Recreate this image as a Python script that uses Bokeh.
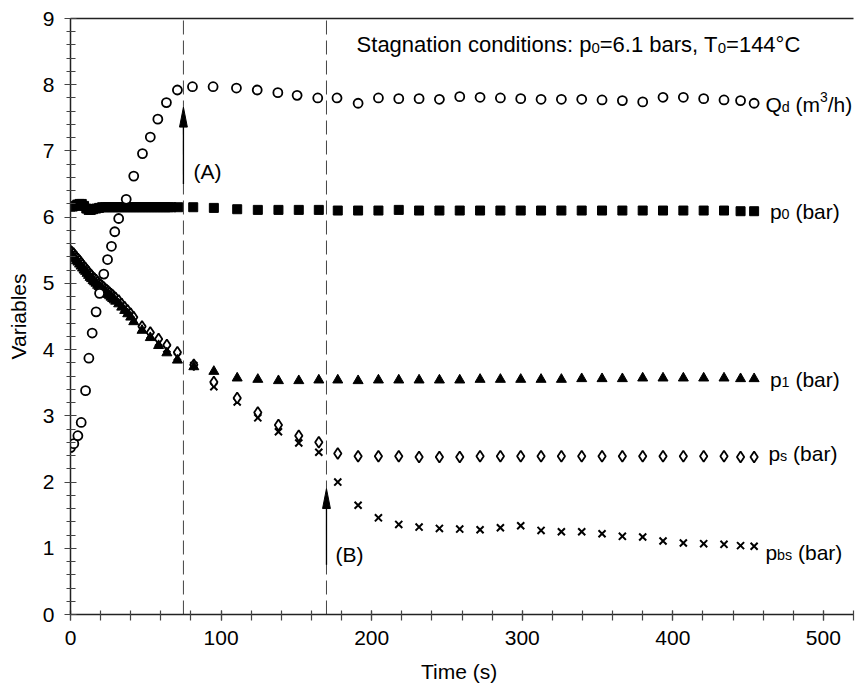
from bokeh.plotting import figure
from bokeh.models import LinearAxis, FixedTicker, Label
from bokeh.embed import file_html
from bokeh.resources import INLINE

# ---------------- data ----------------
qd_t = [0.0, 2.2, 4.9, 7.1, 10.0, 12.2, 14.4, 17.0, 19.3, 22.1, 24.6, 27.2, 29.4, 32.0, 37.0,
        42.0, 47.8, 53.0, 58.0, 63.7, 71.0, 81.0, 94.7, 110.2, 124.0, 137.7, 150.5, 164.2,
        177.0, 191.0, 204.5, 218.0, 231.5, 245.0, 258.5, 272.0, 285.5, 299.0, 312.5, 326.0,
        339.5, 353.0, 366.5, 380.0, 393.5, 407.0, 420.5, 434.0, 445.0, 454.0]
qd_v = [2.52, 2.58, 2.70, 2.90, 3.38, 3.87, 4.25, 4.57, 4.85, 5.14, 5.36, 5.56, 5.78, 5.98, 6.27,
        6.62, 6.96, 7.21, 7.48, 7.73, 7.92, 7.97, 7.97, 7.95, 7.92, 7.88, 7.84, 7.80,
        7.80, 7.72, 7.80, 7.79, 7.79, 7.78, 7.82, 7.81, 7.80, 7.79, 7.78, 7.78,
        7.78, 7.77, 7.76, 7.74, 7.81, 7.81, 7.79, 7.77, 7.76, 7.72]

p0_t = [0, 1.5, 3, 4.5, 6, 7.5, 9, 10.5, 12, 13.5, 15, 17, 19, 21, 23, 25, 27, 29, 31, 33, 35,
        37, 39, 41, 43, 45, 47, 49, 51, 53, 55, 57, 59, 61, 63, 65, 67, 71.5, 81.5, 95.2,
        110.7, 124.4, 138.1, 151.6, 164.9, 177.5, 191.0, 204.5, 218.0, 231.5, 245.0, 258.5,
        272.0, 285.5, 299.0, 312.5, 326.0, 339.5, 353.0, 366.5, 380.0, 393.5, 407.0, 420.5,
        434.0, 445.0, 454.0]
p0_v = [6.16, 6.16, 6.17, 6.19, 6.20, 6.20, 6.17, 6.13, 6.11, 6.11, 6.12, 6.13, 6.14, 6.15,
        6.15, 6.15, 6.15, 6.15, 6.15, 6.15, 6.15, 6.15, 6.15, 6.15, 6.15, 6.15, 6.15, 6.15,
        6.15, 6.15, 6.15, 6.15, 6.15, 6.15, 6.15, 6.15, 6.15, 6.15, 6.15, 6.14,
        6.12, 6.11, 6.11, 6.11, 6.11, 6.10, 6.10, 6.10, 6.11, 6.10, 6.10, 6.10,
        6.10, 6.10, 6.10, 6.10, 6.10, 6.10, 6.10, 6.10, 6.10, 6.10, 6.10, 6.10,
        6.10, 6.09, 6.09]

# common sampling times of p1, ps and pbs
pt = [0, 1, 2, 3, 4, 5, 6, 7, 8, 9, 10, 11, 12, 13, 14, 15, 16, 17, 18, 19, 20, 21, 22, 23,
      24, 25, 26, 27, 28, 29, 30, 32, 34, 36, 38, 40, 42, 47.5, 53, 58.5, 64, 71,
      81.9, 95.2, 110.7, 124.4, 138.1, 151.6, 164.9, 177.5, 191.0, 204.5, 218.0, 231.5,
      245.0, 258.5, 272.0, 285.5, 299.0, 312.5, 326.0, 339.5, 353.0, 366.5, 380.0, 393.5,
      407.0, 420.5, 434.0, 445.0, 454.0]
p1_v = [5.44, 5.42, 5.40, 5.37, 5.34, 5.32, 5.29, 5.26, 5.23, 5.20, 5.18, 5.15, 5.12, 5.09,
        5.07, 5.04, 5.02, 5.00, 4.97, 4.95, 4.93, 4.91, 4.89, 4.87, 4.85, 4.83, 4.81, 4.79,
        4.77, 4.75, 4.73, 4.69, 4.64, 4.59, 4.54, 4.49, 4.42, 4.29, 4.18, 4.06, 3.95, 3.84,
        3.74, 3.67, 3.57, 3.55, 3.53, 3.53, 3.54, 3.54, 3.53, 3.54, 3.54, 3.54,
        3.54, 3.54, 3.55, 3.55, 3.55, 3.55, 3.55, 3.56, 3.56, 3.56, 3.57, 3.57,
        3.57, 3.57, 3.57, 3.56, 3.56]
ps_v = [5.49, 5.47, 5.45, 5.42, 5.39, 5.37, 5.34, 5.31, 5.28, 5.25, 5.23, 5.20, 5.17, 5.14,
        5.12, 5.09, 5.07, 5.05, 5.02, 5.00, 4.98, 4.96, 4.94, 4.92, 4.90, 4.88, 4.86, 4.84,
        4.82, 4.80, 4.78, 4.74, 4.69, 4.64, 4.59, 4.54, 4.49, 4.35, 4.26, 4.16, 4.07, 3.96,
        3.77, 3.51, 3.27, 3.05, 2.86, 2.70, 2.60, 2.43, 2.39, 2.39, 2.39, 2.38,
        2.38, 2.38, 2.39, 2.39, 2.39, 2.39, 2.39, 2.39, 2.39, 2.39, 2.39, 2.39,
        2.39, 2.39, 2.39, 2.38, 2.38]
pbs_v = [5.47, 5.45, 5.43, 5.40, 5.37, 5.35, 5.32, 5.29, 5.26, 5.23, 5.21, 5.18, 5.15, 5.12,
         5.10, 5.07, 5.05, 5.03, 5.00, 4.98, 4.96, 4.94, 4.92, 4.90, 4.88, 4.86, 4.84, 4.82,
         4.80, 4.78, 4.76, 4.72, 4.67, 4.62, 4.57, 4.52, 4.45, 4.32, 4.22, 4.11, 4.01, 3.89,
         3.76, 3.44, 3.21, 2.97, 2.76, 2.59, 2.45, 2.00, 1.65, 1.46, 1.36, 1.32,
         1.30, 1.29, 1.28, 1.31, 1.34, 1.27, 1.25, 1.25, 1.22, 1.18, 1.17, 1.11,
         1.08, 1.07, 1.06, 1.04, 1.03]

event_t = [75, 170]          # dashed vertical lines / arrows (A) and (B)
arrow_from = [6.50, 0.75]
arrow_to = [7.66, 1.90]

x_ticks = [0, 100, 200, 300, 400, 500]
y_ticks = [0, 1, 2, 3, 4, 5, 6, 7, 8, 9]

# ---------------- figure ----------------
FONT = "Liberation Sans"
p = figure(width=863, height=696, x_range=(0, 520), y_range=(0, 9),
           output_backend="svg", toolbar_location=None,
           min_border_left=70, min_border_right=10, min_border_top=18, min_border_bottom=82)
p.outline_line_color = None
p.xgrid.visible = False
p.ygrid.visible = False
p.background_fill_color = "white"
p.border_fill_color = "white"

xa = p.xaxis[0]
xa.ticker = FixedTicker(ticks=x_ticks, minor_ticks=list(range(0, 521, 20)))
ya = p.yaxis[0]
ya.ticker = FixedTicker(ticks=y_ticks, minor_ticks=[round(i * 0.2, 1) for i in range(46)])
for ax in (xa, ya):
    ax.axis_line_color = "#222222"
    ax.axis_line_width = 1.5
    ax.major_tick_line_color = "#444444"
    ax.minor_tick_line_color = "#444444"
    ax.major_tick_line_width = 1.2
    ax.minor_tick_line_width = 1.2
    ax.major_label_text_font = FONT
    ax.major_label_text_font_size = "21px"
    ax.major_label_text_color = "black"
    ax.axis_label_text_font = FONT
    ax.axis_label_text_font_size = "21px"
    ax.axis_label_text_font_style = "normal"
    ax.axis_label_text_color = "black"
ya.major_tick_in = 6
ya.major_tick_out = 6
ya.minor_tick_in = 5
ya.minor_tick_out = 4
ya.major_label_standoff = 10
ya.axis_label = "Variables"
ya.axis_label_standoff = 10
xa.major_tick_in = 4
xa.major_tick_out = 6
xa.minor_tick_in = 4
xa.minor_tick_out = 6
xa.major_label_standoff = 10
xa.axis_label = "Time  (s)"
xa.axis_label_standoff = 12

top = LinearAxis(ticker=FixedTicker(ticks=[]), axis_line_color="#222222", axis_line_width=1.3)
p.add_layout(top, "above")

# dashed event lines
p.segment(x0=event_t, y0=[0, 0], x1=event_t, y1=[9, 9], line_color="#444444",
          line_width=1, line_dash="14 6")

# arrows
HL, HW = 0.30, 2.6
p.segment(x0=event_t, y0=arrow_from, x1=event_t, y1=[v - HL for v in arrow_to],
          line_color="black", line_width=1.3)
p.patches(xs=[[t - HW, t, t + HW] for t in event_t],
          ys=[[v - HL, v, v - HL] for v in arrow_to],
          fill_color="black", line_color="black", line_width=1)

# series
p.scatter(pt, pbs_v, marker="x", size=10, line_color="black", line_width=2)
p.scatter(pt, ps_v, marker="diamond", size=11, fill_color="white", line_color="black", line_width=1.8)
p.scatter(pt, p1_v, marker="triangle", size=10, fill_color="black", line_color="black")
p.scatter(p0_t, p0_v, marker="square", size=9, fill_color="black", line_color="black")
p.scatter(qd_t, qd_v, marker="circle", size=9, fill_color="white", line_color="black", line_width=1.8)

# ---------------- rich text helper ----------------
W = {' ': 278, '(': 333, ')': 333, '/': 278, ':': 278, '=': 584, '.': 278, ',': 278, '°': 400,
     'A': 667, 'B': 667, 'C': 722, 'Q': 778, 'S': 667, 'T': 611,
     'a': 556, 'b': 556, 'c': 500, 'd': 556, 'e': 556, 'g': 556, 'h': 556, 'i': 222,
     'm': 833, 'n': 556, 'o': 556, 'p': 556, 'r': 333, 's': 500, 't': 278}


def tw(s, size):
    return sum(W.get(c, 556) for c in s) * size / 1000.0


def rich(x, y, parts, size):
    off = 0.0
    for txt, kind in parts:
        if kind == "n":
            fs, dy = size, -0.30 * size
        elif kind == "sub":
            fs, dy = 0.68 * size, -0.30 * size - 0.13 * size
        else:
            fs, dy = 0.66 * size, -0.30 * size + 0.36 * size
        lead = len(txt) - len(txt.lstrip(" "))
        off += tw(" " * lead, fs)
        t = txt.lstrip(" ")
        p.add_layout(Label(x=x, y=y, x_offset=off, y_offset=dy, text=t, text_font=FONT,
                           text_font_size=f"{fs:.1f}px", text_baseline="alphabetic",
                           text_align="left", text_color="black"))
        off += tw(t, fs)


rich(190, 8.70, [("Stagnation conditions: p", "n"), ("0", "sub"), ("=6.1 bars, T", "n"),
                 ("0", "sub"), ("=144°C", "n")], 22)
rich(461.5, 7.80, [("Q", "n"), ("d", "sub"), (" (m", "n"), ("3", "sup"), ("/h)", "n")], 21)
rich(464.5, 6.18, [("p", "n"), ("0", "sub"), (" (bar)", "n")], 21)
rich(464.5, 3.65, [("p", "n"), ("1", "sub"), (" (bar)", "n")], 21)
rich(463.5, 2.53, [("p", "n"), ("s", "sub"), (" (bar)", "n")], 21)
rich(461.5, 1.03, [("p", "n"), ("bs", "sub"), (" (bar)", "n")], 21)
rich(81.7, 6.78, [("(A)", "n")], 21)
rich(176.0, 1.00, [("(B)", "n")], 21)

open("out.html", "w").write(file_html(p, INLINE))
